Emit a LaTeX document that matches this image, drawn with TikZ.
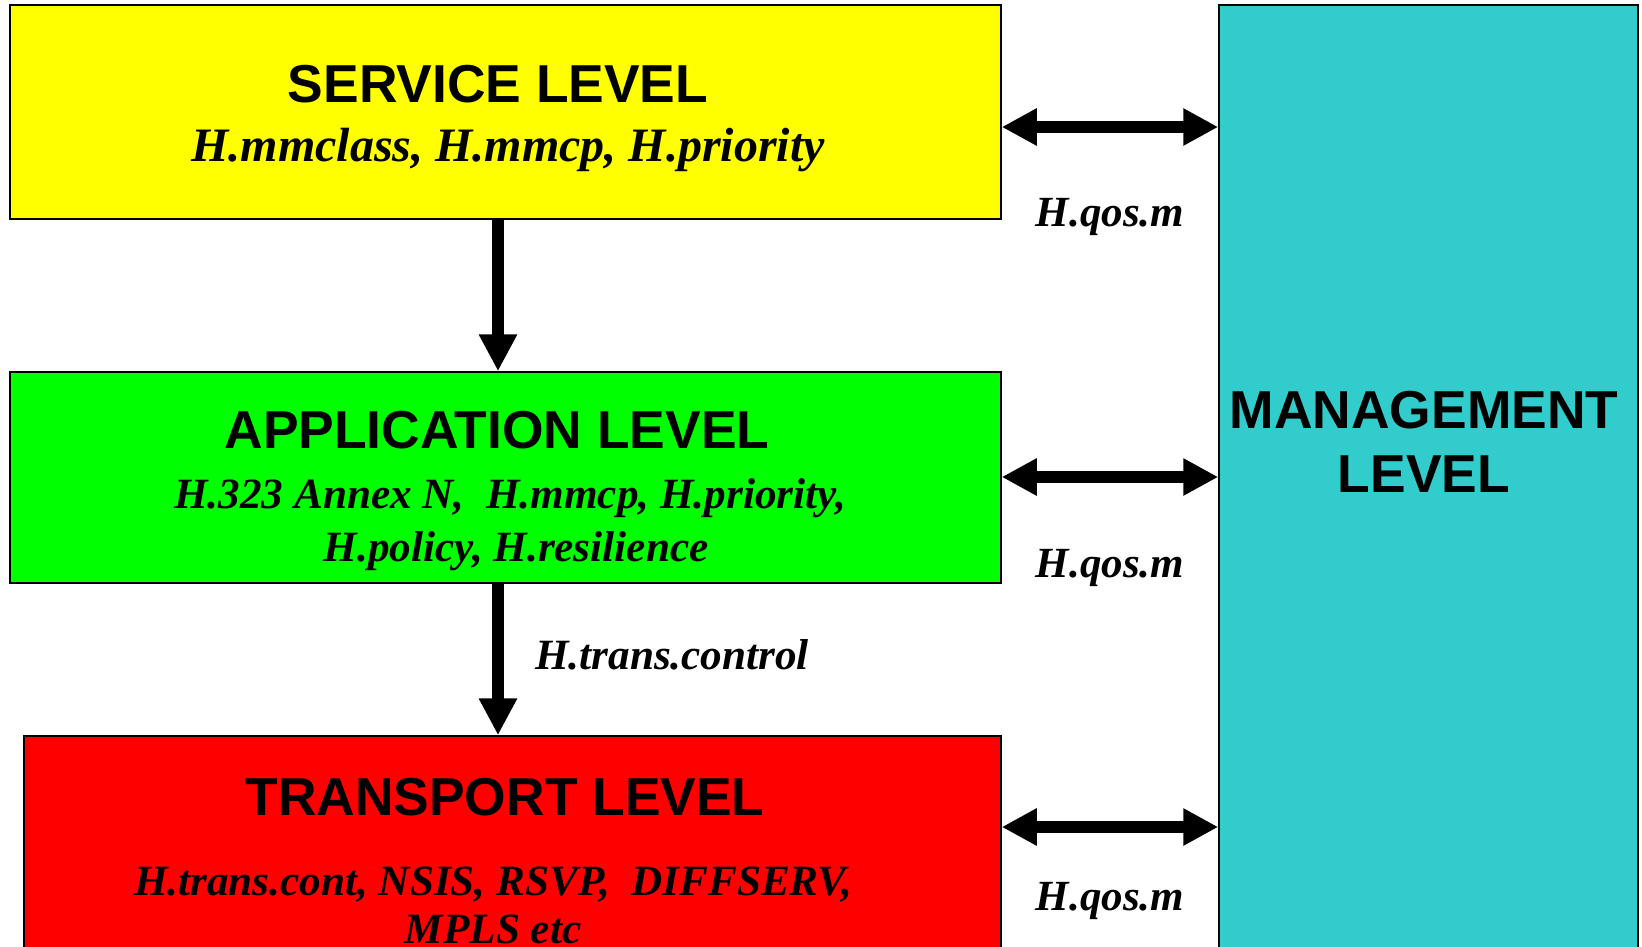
\documentclass[tikz,border=0pt]{standalone}
\usepackage{fontspec}
\newfontfamily\headfont{Liberation Sans}
\newfontfamily\labfont{Liberation Serif}
\usetikzlibrary{arrows.meta}

\definecolor{svcyellow}{HTML}{FFFF00}
\definecolor{appgreen}{HTML}{00FF00}
\definecolor{trred}{HTML}{FF0000}
\definecolor{mgmtteal}{HTML}{33CCCC}

\tikzset{
  levelbox/.style={draw=black, line width=1.5pt, rectangle, inner sep=0pt, anchor=center},
  headtext/.style={anchor=base, inner sep=0pt, font=\headfont\bfseries\fontsize{53.4}{64}\selectfont},
  bigsubtext/.style={anchor=base, inner sep=0pt, font=\labfont\bfseries\itshape\fontsize{48}{56}\selectfont},
  subtext/.style={anchor=base, inner sep=0pt, font=\labfont\bfseries\itshape\fontsize{43.2}{50}\selectfont},
  qostext/.style={anchor=base, inner sep=0pt, font=\labfont\bfseries\itshape\fontsize{43}{50}\selectfont},
  downarrow/.style={line width=12pt, -{Triangle[length=37pt,width=36pt]}},
  botharrow/.style={line width=12pt, {Triangle[length=35pt,width=35pt]}-{Triangle[length=35pt,width=35pt]}}
}

\begin{document}
\begin{tikzpicture}[x=1pt, y=-1pt]
  \useasboundingbox (0,0) rectangle (1642,947);
  \clip (0,0) rectangle (1642,947);

  % level boxes
  \node[levelbox, fill=svcyellow, minimum width=991pt, minimum height=214pt] (service) at (505.5,112) {};
  \node[levelbox, fill=appgreen, minimum width=991pt, minimum height=211pt] (app) at (505.5,477.5) {};
  \node[levelbox, fill=trred, minimum width=977pt, minimum height=244pt] (transport) at (512.5,858) {};
  \node[levelbox, fill=mgmtteal, minimum width=419pt, minimum height=975pt] (mgmt) at (1428.5,492.5) {};

  % box titles and contents
  \node[headtext] (svctitle) at (498,103) {SERVICE LEVEL};
  \node[bigsubtext] (svcsub) at (508,162) {H.mmclass, H.mmcp, H.priority};

  \node[headtext] (apptitle) at (497,448) {APPLICATION LEVEL};
  \node[subtext] (appsub1) at (510,508) {H.323 Annex N,\ \ H.mmcp, H.priority,};
  \node[subtext] (appsub2) at (516,561) {H.policy, H.resilience};

  \node[headtext] (trtitle) at (505,815) {TRANSPORT LEVEL};
  \node[subtext] (trsub1) at (493,895) {H.trans.cont, NSIS, RSVP,\ \ DIFFSERV,};
  \node[subtext] (trsub2) at (493,943) {MPLS etc};

  \node[headtext] (mgmttitle1) at (1424,428) {MANAGEMENT};
  \node[headtext] (mgmttitle2) at (1424,492) {LEVEL};

  % connectors between levels
  \coordinate (xcol) at (498,0);
  \draw[downarrow] (service.south -| xcol) -- (app.north -| xcol);
  \draw[downarrow] (app.south -| xcol) -- (transport.north -| xcol);
  \node[subtext, anchor=base west] (transctl) at (535,669) {H.trans.control};

  \coordinate (hy1) at (0,127);
  \coordinate (hy2) at (0,477);
  \coordinate (hy3) at (0,827);
  \draw[botharrow] (service.east |- hy1) -- (mgmt.west |- hy1);
  \draw[botharrow] (app.east |- hy2) -- (mgmt.west |- hy2);
  \draw[botharrow] (transport.east |- hy3) -- (mgmt.west |- hy3);

  \node[qostext] (qos1) at (1110,226) {H.qos.m};
  \node[qostext] (qos2) at (1110,577) {H.qos.m};
  \node[qostext] (qos3) at (1110,910) {H.qos.m};
\end{tikzpicture}
\end{document}
